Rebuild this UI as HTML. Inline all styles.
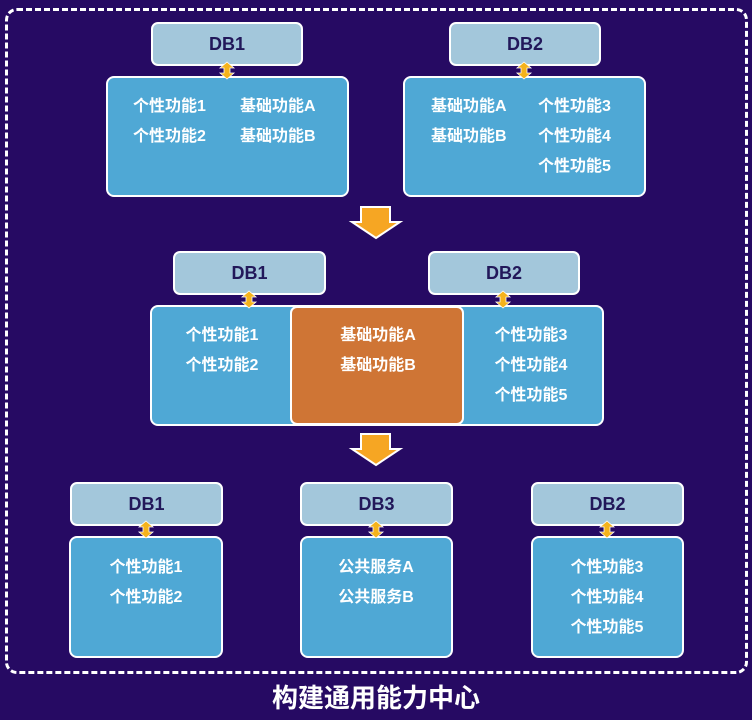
<!DOCTYPE html>
<html><head><meta charset="utf-8"><style>
html,body{margin:0;padding:0}
body{width:752px;height:720px;background:#260a63;position:relative;overflow:hidden;font-family:"Liberation Sans","Noto Sans CJK SC",sans-serif}
.a{position:absolute;box-sizing:border-box}
.db{background:#a3c7db;border:2px solid #fff;border-radius:7px;color:#22185a;font-weight:bold;font-size:18px;display:flex;align-items:center;justify-content:center}
.bx{background:#4fa8d5;border:2px solid #fff;border-radius:8px}
.t{position:absolute;color:#fff;font-weight:bold;font-size:16px;line-height:30px;white-space:nowrap}
.c{text-align:center;transform:translateX(-50%)}
</style></head><body>
<div class="a" style="left:5px;top:8px;width:743px;height:666px;border:3px dashed #fff;border-radius:12px"></div>

<div class="a db" style="left:151px;top:22px;width:152px;height:44px">DB1</div>
<div class="a bx" style="left:106px;top:76px;width:243px;height:121px"></div>
<div class="t" style="left:133px;top:92px">个性功能1<br>个性功能2</div>
<div class="t" style="left:240px;top:92px">基础功能A<br>基础功能B</div>

<div class="a db" style="left:449px;top:22px;width:152px;height:44px">DB2</div>
<div class="a bx" style="left:403px;top:76px;width:243px;height:121px"></div>
<div class="t" style="left:431px;top:92px">基础功能A<br>基础功能B</div>
<div class="t" style="left:538px;top:92px">个性功能3<br>个性功能4<br>个性功能5</div>

<div class="a db" style="left:173px;top:251px;width:153px;height:44px">DB1</div>
<div class="a db" style="left:428px;top:251px;width:152px;height:44px">DB2</div>
<div class="a bx" style="left:150px;top:305px;width:454px;height:121px"></div>
<div class="a" style="left:290px;top:306px;width:174px;height:119px;background:#cf7535;border:2px solid #fff;border-radius:7px"></div>
<div class="t c" style="left:222px;top:321px">个性功能1<br>个性功能2</div>
<div class="t c" style="left:378px;top:321px">基础功能A<br>基础功能B</div>
<div class="t c" style="left:531px;top:321px">个性功能3<br>个性功能4<br>个性功能5</div>

<div class="a db" style="left:70px;top:482px;width:153px;height:44px">DB1</div>
<div class="a bx" style="left:69px;top:536px;width:154px;height:122px"></div>
<div class="t c" style="left:146px;top:553px">个性功能1<br>个性功能2</div>
<div class="a db" style="left:300px;top:482px;width:153px;height:44px">DB3</div>
<div class="a bx" style="left:300px;top:536px;width:153px;height:122px"></div>
<div class="t c" style="left:376px;top:553px">公共服务A<br>公共服务B</div>
<div class="a db" style="left:531px;top:482px;width:153px;height:44px">DB2</div>
<div class="a bx" style="left:531px;top:536px;width:153px;height:122px"></div>
<div class="t c" style="left:607px;top:553px">个性功能3<br>个性功能4<br>个性功能5</div>

<svg class="a" style="left:0;top:0" width="752" height="720">
<defs><g id="da"><polygon points="0,0 7,6 3,6 3,11 7,11 0,17 -7,11 -3,11 -3,6 -7,6" fill="#f5b31c" stroke="#fff" stroke-width="0.8"/></g>
<g id="big"><polygon points="-16,0 13,0 13,15 23,15 -1,31 -25,15 -16,15" fill="#f6a623" stroke="#fff" stroke-width="2"/></g></defs>
<use href="#da" x="227" y="62"/>
<use href="#da" x="524" y="62"/>
<use href="#da" x="249" y="291"/>
<use href="#da" x="503" y="291"/>
<use href="#da" x="146" y="521"/>
<use href="#da" x="376" y="521"/>
<use href="#da" x="607" y="521"/>
<use href="#big" x="377" y="207"/>
<use href="#big" x="377" y="434"/>
</svg>
<div class="t c" style="left:376px;top:680px;font-size:26px;line-height:36px">构建通用能力中心</div>
</body></html>
